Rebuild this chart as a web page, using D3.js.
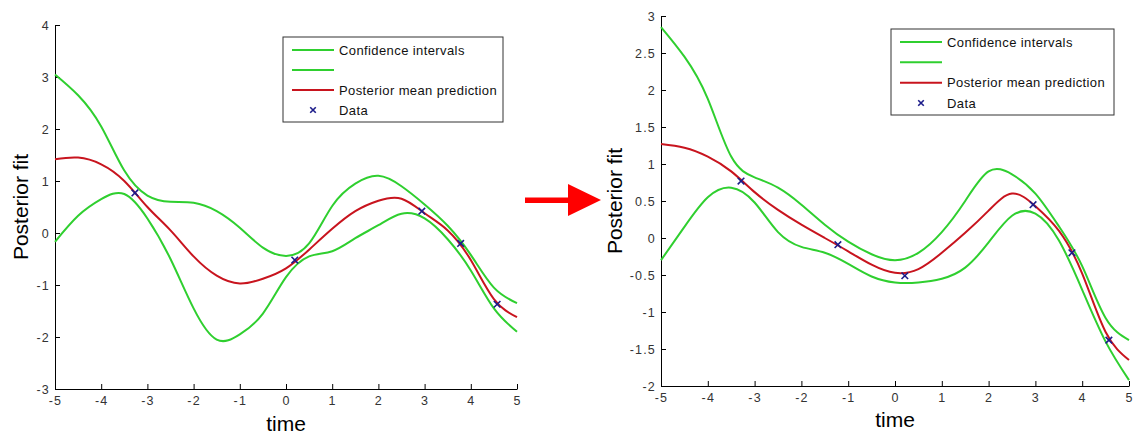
<!DOCTYPE html>
<html lang="en">
<head>
  <meta charset="UTF-8" />
  <title>Posterior fit</title>
  <script src="https://d3js.org/d3.v7.min.js"></script>
  <style>
    body {
      margin: 0;
      background: #fff;
      font-family: "Liberation Sans", Arial, sans-serif;
    }
    .axis text {
      font-size: 12.5px;
      letter-spacing: 1.2px;
      fill: #333;
      font-family: "Liberation Sans", Arial, sans-serif;
    }
    .axis path, .axis line {
      stroke: #000;
    }
    .label {
      font-size: 21px;
      fill: #000;
    }
    .legend text {
      font-size: 13px;
      letter-spacing: 0.4px;
      fill: #111;
    }
  </style>
</head>
<body>
  <svg width="1135" height="435"></svg>

  <script>
    // sample grid for the curves
    const tGrid = [-5, -4.5, -4, -3.5, -3, -2.5, -2, -1.5, -1, -0.5, 0, 0.5, 1, 1.5, 2, 2.5, 3, 3.5, 4, 4.5, 5];

    // left panel
    const leftUpper = [3.05, 2.65, 2.05, 1.2, 0.72, 0.6, 0.58, 0.42, 0.1, -0.28, -0.44, -0.2, 0.52, 0.95, 1.1, 0.9, 0.55, 0.14, -0.42, -1.05, -1.35];
    const leftMean  = [1.42, 1.45, 1.32, 1.0, 0.5, 0.05, -0.45, -0.82, -0.97, -0.88, -0.68, -0.32, 0.08, 0.42, 0.62, 0.66, 0.38, 0.05, -0.52, -1.27, -1.62];
    const leftLower = [-0.17, 0.33, 0.65, 0.75, 0.28, -0.5, -1.45, -2.05, -1.95, -1.55, -0.85, -0.45, -0.35, -0.1, 0.15, 0.37, 0.28, -0.12, -0.72, -1.45, -1.9];
    const leftDataT = [-3.27, 0.19, 2.94, 3.78, 4.57];
    const leftDataY = [0.77, -0.52, 0.42, -0.2, -1.37];
    const leftYTicks = [-3, -2, -1, 0, 1, 2, 3, 4];

    // right panel
    const rightUpper = [2.85, 2.45, 1.88, 1.1, 0.82, 0.68, 0.45, 0.18, -0.05, -0.22, -0.3, -0.2, 0.08, 0.5, 0.9, 0.86, 0.6, 0.16, -0.38, -1.08, -1.38];
    const rightMean  = [1.27, 1.22, 1.1, 0.9, 0.62, 0.38, 0.18, 0.0, -0.18, -0.36, -0.47, -0.42, -0.2, 0.07, 0.37, 0.6, 0.43, 0.1, -0.48, -1.27, -1.65];
    const rightLower = [-0.3, 0.15, 0.55, 0.68, 0.48, 0.08, -0.12, -0.2, -0.35, -0.52, -0.6, -0.6, -0.55, -0.4, -0.06, 0.3, 0.33, -0.03, -0.7, -1.4, -1.92];
    const rightDataT = [-3.29, -1.22, 0.21, 2.95, 3.78, 4.57];
    const rightDataY = [0.77, -0.09, -0.51, 0.45, -0.2, -1.38];
    const rightYTicks = [-2, -1.5, -1, -0.5, 0, 0.5, 1, 1.5, 2, 2.5, 3];

    const xTicks = [-5, -4, -3, -2, -1, 0, 1, 2, 3, 4, 5];
    const legendLabels = ["Confidence intervals", "", "Posterior mean prediction", "Data"];

    const green = "#2fcf2f", red = "#c8141e", navy = "#1c1c8a";
    const svg = d3.select("svg");

    function panel(p) {
      const x = d3.scaleLinear().domain([-5, 5]).range([p.x0, p.x1]);
      const y = d3.scaleLinear().domain(p.yDomain).range([p.y1, p.y0]);
      const g = svg.append("g");

      g.append("g").attr("class", "axis")
        .attr("transform", `translate(0,${p.y1})`)
        .call(d3.axisBottom(x).tickValues(xTicks).tickFormat(d => String(d))
          .tickSizeInner(-5).tickSizeOuter(0).tickPadding(7));
      g.append("g").attr("class", "axis")
        .attr("transform", `translate(${p.x0},0)`)
        .call(d3.axisLeft(y).tickValues(p.yTicks).tickFormat(d => String(d))
          .tickSizeInner(-5).tickSizeOuter(0).tickPadding(5));

      const line = d3.line()
        .x((d, i) => x(tGrid[i]))
        .y(d => y(d))
        .curve(d3.curveNatural);

      [p.upper, p.lower].forEach(s => {
        g.append("path").datum(s)
          .attr("fill", "none").attr("stroke", green).attr("stroke-width", 2)
          .attr("d", line);
      });
      g.append("path").datum(p.mean)
        .attr("fill", "none").attr("stroke", red).attr("stroke-width", 2)
        .attr("d", line);

      g.selectAll(".pt")
        .data(p.dataT.map((t, i) => [t, p.dataY[i]]))
        .join("path")
        .attr("transform", d => `translate(${x(d[0])},${y(d[1])})`)
        .attr("d", d3.symbol(d3.symbolX, 30))
        .attr("fill", "none").attr("stroke", navy).attr("stroke-width", 1.6);

      // axis labels
      g.append("text").attr("class", "label")
        .attr("x", (p.x0 + p.x1) / 2).attr("y", p.timeY)
        .attr("text-anchor", "middle").text("time");
      g.append("text").attr("class", "label")
        .attr("transform", `translate(${p.labelX},${(p.y0 + p.y1) / 2}) rotate(-90)`)
        .attr("text-anchor", "middle").text("Posterior fit");

      // legend
      const lg = g.append("g").attr("class", "legend");
      lg.append("rect")
        .attr("x", p.lg.x).attr("y", p.lg.y)
        .attr("width", p.lg.w).attr("height", p.lg.h)
        .attr("fill", "#fff").attr("stroke", "#333").attr("stroke-width", 1);
      const rows = d3.scaleLinear().domain([0, 3]).range([p.lg.y + 13, p.lg.y + p.lg.h - 12]);
      legendLabels.forEach((lab, i) => {
        const yy = rows(i);
        if (i < 3) {
          lg.append("line")
            .attr("x1", p.lg.x + 9).attr("x2", p.lg.x + 51)
            .attr("y1", yy).attr("y2", yy)
            .attr("stroke", i < 2 ? green : red).attr("stroke-width", 2);
        } else {
          lg.append("path")
            .attr("transform", `translate(${p.lg.x + 30},${yy})`)
            .attr("d", d3.symbol(d3.symbolX, 22))
            .attr("fill", "none").attr("stroke", navy).attr("stroke-width", 1.6);
        }
        lg.append("text")
          .attr("x", p.lg.x + 56).attr("y", yy).attr("dy", "0.35em")
          .text(lab);
      });
    }

    panel({
      x0: 55, x1: 517, y0: 25, y1: 389, yDomain: [-3, 4], yTicks: leftYTicks,
      upper: leftUpper, mean: leftMean, lower: leftLower,
      dataT: leftDataT, dataY: leftDataY,
      timeY: 431, labelX: 28,
      lg: { x: 283, y: 37, w: 220, h: 85 }
    });

    panel({
      x0: 661, x1: 1129, y0: 16, y1: 386, yDomain: [-2, 3], yTicks: rightYTicks,
      upper: rightUpper, mean: rightMean, lower: rightLower,
      dataT: rightDataT, dataY: rightDataY,
      timeY: 427, labelX: 622,
      lg: { x: 891, y: 29, w: 223, h: 86 }
    });

    // red arrow between the panels
    svg.append("path")
      .attr("d", "M525,197.5 L568,197.5 L568,184 L601,200 L568,216 L568,203 L525,203 Z")
      .attr("fill", "#f00");
  </script>
</body>
</html>
